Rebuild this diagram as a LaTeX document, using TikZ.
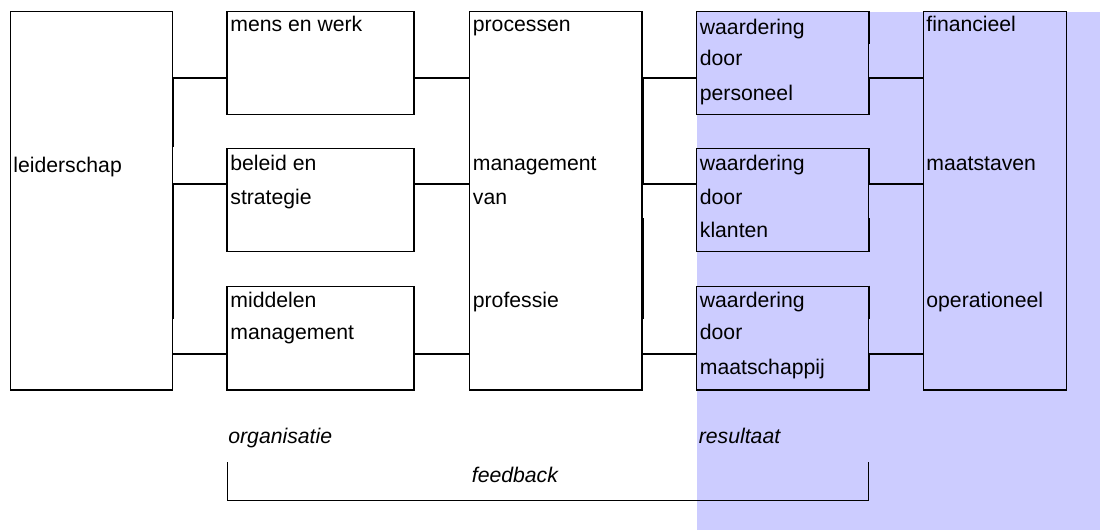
\documentclass[tikz,border=0pt]{standalone}
\usepackage{fontspec}
\setmainfont{Liberation Sans}
\usetikzlibrary{fit}
\definecolor{lavender}{RGB}{204,204,255}
\tikzset{box/.style={draw, line width=0.6pt, inner sep=0pt, fill=white},
  lbox/.style={box, fill=lavender},
  txt/.style={anchor=base west, inner sep=0pt, font=\fontsize{10.6}{12}\selectfont},
  itxt/.style={txt, font=\fontsize{10.6}{12}\selectfont\itshape},
  wire/.style={line width=0.6pt}, bus/.style={line width=1.1pt}}

\begin{document}
\begin{tikzpicture}[x=0.5pt, y=-0.5pt]
    \useasboundingbox (0,0) rectangle (1100,530);
    \fill[lavender] (697,11.7) rectangle (1100,530);
    \foreach \n/\xa/\ya/\xb/\yb in {leid/10.7/11.7/172.7/390, mens/227/11.7/414/114.3, bel/227/148.7/414/251.7,
        mid/227/286.3/414/390, proc/469.5/11.7/642/390}
        \node[box, fit={(\xa,\ya) (\xb,\yb)}] (\n) {};
    \foreach \n/\xa/\ya/\xb/\yb in {wp/696.5/11.7/868.5/114.3, wk/696.5/148.7/868.5/251.7, wm/696.5/286.3/868.5/390,
        fin/923.5/11.7/1066.5/390}
        \node[lbox, fit={(\xa,\ya) (\xb,\yb)}] (\n) {};

    \coordinate (ra) at (0,78); \coordinate (rb) at (0,184); \coordinate (rc) at (0,354);
    \coordinate (h44) at (0,44); \coordinate (h147) at (0,147); \coordinate (h218) at (0,218); \coordinate (h319) at (0,319);
    \foreach \a/\b/\r in {leid/mens/ra, leid/bel/rb, leid/mid/rc, mens/proc/ra, bel/proc/rb, mid/proc/rc,
        proc/wp/ra, proc/wk/rb, proc/wm/rc, wp/fin/ra, wk/fin/rb, wm/fin/rc}
        \draw[wire] (\a.east |- \r) -- (\b.west |- \r);
    \draw[bus] (leid.east |- ra) -- (leid.east |- h147); \draw[bus] (leid.east |- rb) -- (leid.east |- h319);
    \draw[bus] (proc.east |- ra) -- (proc.east |- rb); \draw[bus] (proc.east |- h218) -- (proc.east |- h319);
    \draw[bus] (wp.north east) -- (wp.east |- h44); \draw[bus] (wp.east |- ra) -- (wp.south east);
    \draw[bus] (wk.north east) -- (wk.east |- rb); \draw[bus] (wk.east |- h218) -- (wk.south east);
    \draw[bus] (wm.north east) -- (wm.east |- h319); \draw[bus] (wm.east |- rc) -- (wm.south east);

    \foreach \t/\x/\y [count=\i] in {leiderschap/13/172, mens en werk/230/32, beleid en/230/170, strategie/230/204,
        middelen/230/307, management/230/339, processen/472.5/32, management/472.5/170, van/472.5/204, professie/472.5/307,
        waardering/699.5/34, door/699.5/65, personeel/699.5/100, waardering/699.5/170, door/699.5/204, klanten/699.5/237,
        waardering/699.5/307, door/699.5/339, maatschappij/699.5/374, financieel/926/32, maatstaven/926/170, operationeel/926/307}
        \node[txt] (t\i) at (\x,\y) {\t};
    \node[itxt] (org) at (228,443) {organisatie}; \node[itxt] (res) at (698.5,443) {resultaat};
    \node[itxt] (fb) at (471.5,482) {feedback};

    \coordinate (fa) at (227.6,462); \coordinate (fz) at (868.8,462); \coordinate (fl) at (0,500.7);
    \draw[wire] (fa) -- (fa |- fl) -- (fz |- fl) -- (fz);
\end{tikzpicture}
\end{document}
